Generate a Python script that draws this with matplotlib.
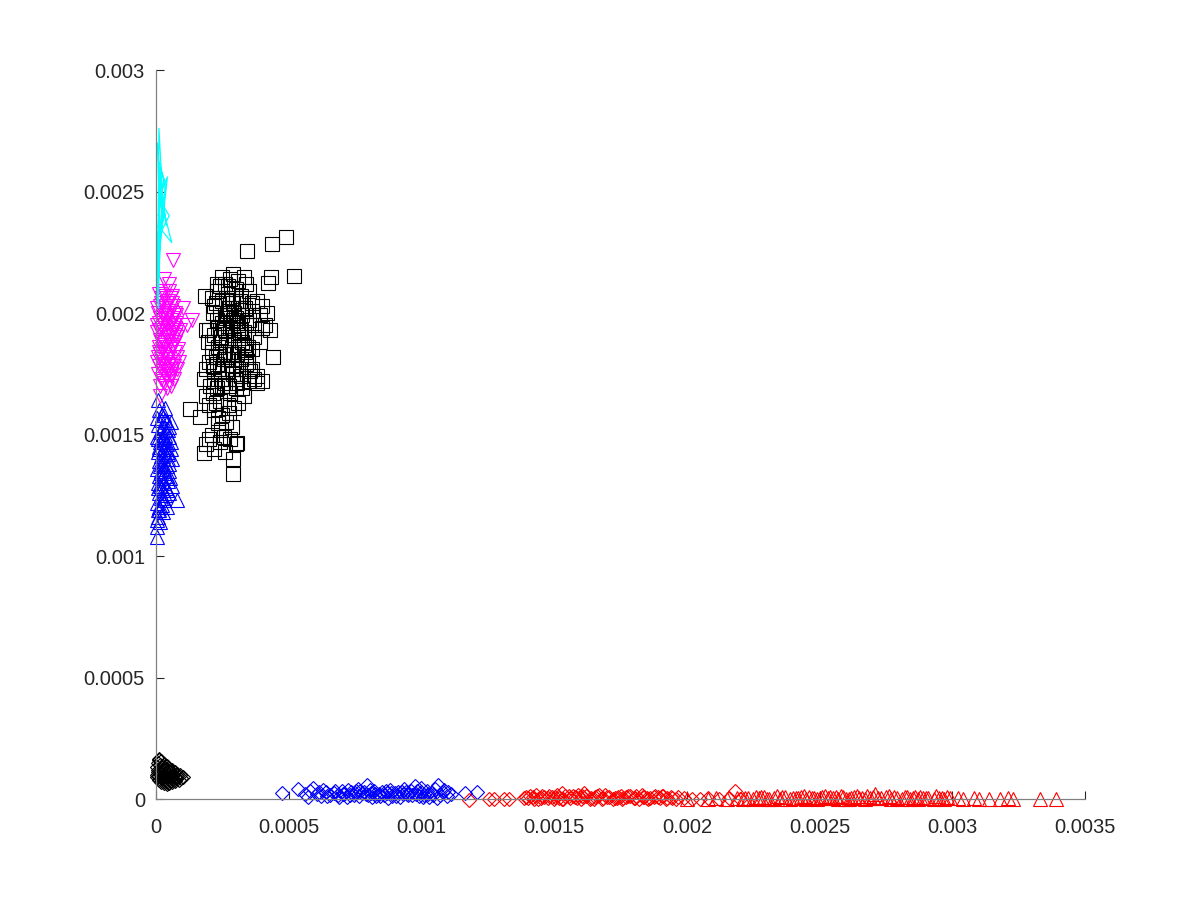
import numpy as np
import matplotlib
matplotlib.use('Agg')
import matplotlib.pyplot as plt

plt.rcParams['font.family'] = ['Liberation Sans', 'DejaVu Sans']

# all values below in units of 1e-3
U = 1e-3

cyan_x = [0.004, 0.010, 0.006, 0.012, 0.003, 0.018, 0.008, 0.011, 0.025, 0.007, 0.014, 0.030, 0.009, 0.020,
          0.043, 0.015, 0.035, 0.012, 0.028, 0.050, 0.022, 0.059, 0.018, 0.040, 0.010, 0.026, 0.005, 0.016,
          0.032, 0.008, 0.013, 0.006, 0.021, 0.009, 0.004, 0.015, 0.007, 0.011, 0.003, 0.009, 0.012, 0.006, 0.010]
cyan_y = [2.10, 2.30, 2.05, 2.45, 2.20, 2.52, 2.35, 2.76, 2.48, 2.15, 2.60, 2.55, 2.40, 2.50,
          2.56, 2.28, 2.53, 2.62, 2.44, 2.40, 2.34, 2.29, 2.47, 2.36, 2.58, 2.39, 2.70, 2.33,
          2.42, 2.26, 2.50, 2.18, 2.38, 2.12, 2.25, 2.32, 2.08, 2.22, 2.14, 2.02, 2.28, 2.06, 2.20]

mag_x = [0.010, 0.020, 0.030, 0.045, 0.060, 0.015, 0.035, 0.050, 0.070, 0.008, 0.025, 0.040, 0.055, 0.075,
         0.012, 0.030, 0.045, 0.065, 0.020, 0.005, 0.038, 0.052, 0.080, 0.015, 0.028, 0.060, 0.042, 0.010,
         0.022, 0.070, 0.035, 0.050, 0.006, 0.018, 0.064, 0.030, 0.045, 0.012, 0.078, 0.025, 0.055, 0.008,
         0.038, 0.020, 0.068, 0.048, 0.030, 0.014, 0.058, 0.040, 0.024, 0.058, 0.033, 0.016, 0.048, 0.066,
         0.028, 0.040, 0.054, 0.012, 0.072, 0.036, 0.062, 0.022, 0.044, 0.018, 0.040, 0.055, 0.026, 0.004,
         0.004, 0.065, 0.135, 0.115, 0.090, 0.085, 0.100, 0.050, 0.030, 0.015,
         0.065, 0.075, 0.070, 0.060, 0.078, 0.068, 0.058, 0.072, 0.062, 0.050, 0.040, 0.030, 0.020, 0.010,
         0.045, 0.035, 0.025, 0.015, 0.055, 0.005, 0.082, 0.076, 0.064, 0.052, 0.042]
mag_y = [2.08, 2.06, 2.07, 2.05, 2.04, 2.03, 2.02, 2.01, 2.00, 2.00, 1.99, 1.98, 1.97, 1.96,
         1.96, 1.95, 1.94, 1.93, 1.93, 1.92, 1.91, 1.90, 1.90, 1.89, 1.88, 1.87, 1.86, 1.86,
         1.85, 1.84, 1.83, 1.82, 1.82, 1.81, 1.80, 1.79, 1.78, 1.78, 1.77, 1.76, 1.75, 1.75,
         1.74, 1.73, 1.73, 1.72, 1.71, 1.70, 1.70, 1.69, 1.94, 1.92, 1.97, 1.98, 1.99, 1.95,
         1.85, 1.81, 1.84, 1.84, 1.88, 1.77, 1.77, 1.79, 1.90, 2.04, 2.04, 2.06, 2.09, 1.95,
         1.80, 2.218, 1.971, 1.95, 1.93, 1.80, 2.02, 2.12, 2.14, 1.66,
         2.03, 1.99, 1.91, 1.86, 1.82, 1.78, 1.74, 1.94, 2.07, 2.09, 1.96, 2.00, 1.88, 1.93,
         1.76, 1.87, 1.72, 1.83, 1.96, 2.02, 1.85, 1.92, 1.98, 1.79, 2.00]

btri_x = [0.010, 0.030, 0.020, 0.040, 0.008, 0.025, 0.045, 0.015, 0.035, 0.005, 0.050, 0.020, 0.030, 0.042,
          0.012, 0.025, 0.055, 0.006, 0.035, 0.018, 0.045, 0.010, 0.028, 0.040, 0.005, 0.020, 0.050, 0.032,
          0.012, 0.024, 0.044, 0.006, 0.016, 0.036, 0.026, 0.010, 0.048, 0.018, 0.032, 0.004, 0.022, 0.012,
          0.040, 0.028, 0.008, 0.016, 0.004, 0.012, 0.030, 0.038, 0.022, 0.014, 0.034, 0.008, 0.044, 0.026,
          0.018, 0.060, 0.078, 0.009, 0.034, 0.004, 0.004, 0.006, 0.055, 0.060,
          0.050, 0.055, 0.045, 0.040, 0.035, 0.030, 0.025, 0.020, 0.015, 0.010, 0.005, 0.048, 0.038, 0.028,
          0.018, 0.008, 0.052, 0.042, 0.032, 0.022]
btri_y = [1.60, 1.58, 1.56, 1.55, 1.54, 1.53, 1.52, 1.51, 1.50, 1.49, 1.49, 1.48, 1.47, 1.46,
          1.45, 1.44, 1.44, 1.43, 1.42, 1.41, 1.40, 1.39, 1.38, 1.37, 1.36, 1.35, 1.35, 1.34,
          1.33, 1.32, 1.31, 1.30, 1.29, 1.28, 1.27, 1.26, 1.26, 1.24, 1.23, 1.22, 1.21, 1.20,
          1.20, 1.18, 1.16, 1.14, 1.12, 1.19, 1.30, 1.46, 1.38, 1.47, 1.56, 1.28, 1.42, 1.50,
          1.34, 1.40, 1.23, 1.642, 1.609, 1.078, 1.148, 1.19, 1.55, 1.29,
          1.53, 1.47, 1.43, 1.33, 1.25, 1.36, 1.41, 1.52, 1.37, 1.44, 1.57, 1.38, 1.52, 1.24,
          1.29, 1.48, 1.32, 1.27, 1.45, 1.58]

sq_x = [0.489, 0.436, 0.344, 0.520, 0.433, 0.423, 0.291, 0.291, 0.181, 0.304, 0.128, 0.166, 0.235,
        0.20, 0.21, 0.19, 0.22, 0.24, 0.26, 0.28, 0.30,
        0.18, 0.19, 0.20, 0.21, 0.22, 0.23, 0.24, 0.25, 0.26, 0.27, 0.28, 0.29, 0.30, 0.31, 0.32, 0.33,
        0.34, 0.35, 0.36, 0.37, 0.38, 0.39, 0.40, 0.41, 0.42, 0.43, 0.44,
        0.20, 0.21, 0.22, 0.23, 0.24, 0.25, 0.26, 0.27, 0.28, 0.29, 0.30, 0.31, 0.32, 0.33, 0.34, 0.35,
        0.19, 0.20, 0.22, 0.24, 0.25, 0.27, 0.28, 0.30, 0.31, 0.33, 0.35, 0.36, 0.38,
        0.22, 0.23, 0.24, 0.25, 0.26, 0.27, 0.28, 0.29, 0.30, 0.31, 0.32, 0.33, 0.34, 0.26, 0.25, 0.24,
        0.23, 0.22, 0.21, 0.27, 0.28, 0.29, 0.30, 0.31, 0.32, 0.29, 0.27, 0.26, 0.30, 0.32, 0.34, 0.36,
        0.37, 0.39, 0.40, 0.38, 0.36, 0.185, 0.19, 0.195, 0.37, 0.40,
        0.215, 0.225, 0.235, 0.245, 0.255, 0.265, 0.275, 0.285, 0.295, 0.305, 0.315, 0.325, 0.335, 0.345,
        0.355, 0.215, 0.225, 0.235, 0.245, 0.255, 0.265, 0.275, 0.285, 0.295, 0.305, 0.315, 0.325, 0.335,
        0.345, 0.205, 0.215, 0.225, 0.235, 0.245, 0.255, 0.265, 0.275, 0.285, 0.295, 0.305, 0.315, 0.325,
        0.23, 0.25, 0.27, 0.29, 0.31]
sq_y = [2.311, 2.283, 2.255, 2.153, 2.149, 2.122, 1.336, 1.398, 1.423, 1.466, 1.604, 1.573, 1.546,
        1.48, 1.50, 1.46, 1.44, 1.47, 1.43, 1.48, 1.46,
        1.73, 1.77, 1.80, 1.84, 1.72, 1.79, 1.88, 1.70, 1.93, 1.81, 1.99, 1.75, 2.05, 1.86, 2.02, 1.92,
        1.82, 1.97, 2.01, 1.90, 1.74, 1.99, 2.03, 1.95, 2.00, 1.93, 1.82,
        1.93, 2.06, 2.03, 2.09, 2.11, 2.05, 2.12, 2.08, 2.14, 2.16, 2.10, 2.13, 2.07, 2.15, 2.12, 2.09,
        1.66, 1.62, 1.60, 1.64, 1.58, 1.62, 1.67, 1.69, 1.63, 1.66, 1.72, 1.77, 1.71,
        1.76, 1.69, 1.83, 1.77, 1.71, 1.89, 1.84, 1.91, 1.78, 1.95, 1.81, 1.87, 1.96, 1.99, 1.96, 2.00,
        1.97, 1.91, 1.88, 2.01, 1.94, 2.04, 1.98, 2.02, 1.93, 1.83, 1.76, 1.84, 1.73, 1.74, 1.79, 1.85,
        1.95, 1.88, 1.94, 2.05, 2.04, 2.07, 1.93, 1.88, 1.73, 1.72,
        1.78, 1.82, 1.86, 1.90, 1.94, 1.98, 2.02, 2.06, 2.00, 1.96, 1.92, 1.88, 1.84, 1.80,
        1.76, 2.00, 2.04, 1.94, 1.73, 1.81, 1.87, 1.70, 1.77, 1.89, 1.83, 2.05, 1.99, 2.02,
        1.86, 1.70, 1.67, 1.63, 1.57, 1.52, 1.49, 1.55, 1.59, 1.53, 1.61, 1.71, 1.77, 1.69,
        2.12, 2.15, 2.11, 1.97, 1.91]

kd_x = [0.010, 0.020, 0.015, 0.005, 0.030, 0.040, 0.050, 0.060, 0.070, 0.080, 0.090, 0.100, 0.095, 0.085,
        0.070, 0.060, 0.050, 0.040, 0.030, 0.020, 0.010, 0.005, 0.004, 0.006, 0.008, 0.020, 0.030, 0.040,
        0.050, 0.060, 0.070, 0.080, 0.020, 0.030, 0.040, 0.050, 0.015, 0.025, 0.035, 0.045, 0.055, 0.065,
        0.075, 0.012, 0.022, 0.032, 0.042, 0.018, 0.028, 0.038, 0.048, 0.058, 0.068, 0.008, 0.012]
kd_y = [0.160, 0.155, 0.140, 0.130, 0.145, 0.135, 0.125, 0.120, 0.110, 0.105, 0.100, 0.090, 0.085, 0.080,
        0.075, 0.070, 0.065, 0.060, 0.065, 0.070, 0.080, 0.090, 0.100, 0.110, 0.120, 0.130, 0.120, 0.110,
        0.100, 0.095, 0.090, 0.095, 0.100, 0.090, 0.085, 0.080, 0.110, 0.115, 0.100, 0.095, 0.110, 0.100,
        0.085, 0.095, 0.085, 0.075, 0.070, 0.125, 0.135, 0.125, 0.115, 0.085, 0.080, 0.150, 0.165]

bd_x = [0.476, 0.536, 0.593, 0.574, 0.605, 0.620, 0.640, 0.655, 0.670, 0.685, 0.700, 0.710, 0.720, 0.735,
        0.745, 0.755, 0.765, 0.775, 0.785, 0.794, 0.800, 0.810, 0.820, 0.830, 0.840, 0.850, 0.860, 0.870,
        0.880, 0.890, 0.900, 0.910, 0.920, 0.930, 0.940, 0.950, 0.960, 0.976, 0.980, 0.990, 1.000, 1.010,
        1.020, 1.030, 1.040, 1.050, 1.064, 1.070, 1.080, 1.095, 1.110, 1.164, 1.208, 0.630, 0.690, 0.760,
        0.815, 0.875, 0.935, 1.000, 1.060, 0.725, 0.560, 0.580,
        0.615, 0.645, 0.675, 0.705, 0.730, 0.750, 0.770, 0.790, 0.805, 0.825, 0.845, 0.865, 0.885, 0.905,
        0.925, 0.945, 0.965, 0.985, 1.005, 1.025, 1.045, 1.085, 1.100]
bd_y = [0.026, 0.040, 0.044, 0.010, 0.020, 0.012, 0.030, 0.018, 0.025, 0.015, 0.032, 0.022, 0.010, 0.028,
        0.018, 0.035, 0.012, 0.024, 0.030, 0.058, 0.016, 0.026, 0.034, 0.012, 0.022, 0.030, 0.018, 0.026,
        0.036, 0.014, 0.024, 0.030, 0.010, 0.020, 0.028, 0.016, 0.034, 0.053, 0.022, 0.012, 0.028, 0.018,
        0.034, 0.008, 0.024, 0.040, 0.058, 0.016, 0.028, 0.012, 0.020, 0.025, 0.030, 0.036, 0.008, 0.040,
        0.008, 0.006, 0.040, 0.044, 0.004, 0.038, 0.020, 0.032,
        0.028, 0.014, 0.034, 0.020, 0.016, 0.026, 0.032, 0.020, 0.036, 0.022, 0.014, 0.034, 0.024, 0.012,
        0.030, 0.022, 0.016, 0.032, 0.010, 0.022, 0.016, 0.036, 0.030]

rd_x = [1.181, 1.255, 1.275, 1.310, 1.330, 1.385, 1.529, 1.613, 2.180,
        1.40, 1.42, 1.44, 1.46, 1.48, 1.50, 1.52, 1.54, 1.56, 1.58, 1.60, 1.62, 1.64, 1.66, 1.68,
        1.70, 1.72, 1.74, 1.76, 1.78, 1.80, 1.82, 1.84, 1.86, 1.88, 1.90, 1.92, 1.94, 1.96,
        1.41, 1.45, 1.49, 1.53, 1.57, 1.61, 1.65, 1.69, 1.73, 1.77, 1.81, 1.85, 1.89,
        1.99, 2.02, 2.05, 2.08, 2.12, 2.16, 2.20,
        1.395, 1.425, 1.455, 1.475, 1.505, 1.535, 1.555, 1.585, 1.605, 1.635, 1.655, 1.685, 1.705, 1.735,
        1.755, 1.785, 1.805, 1.835, 1.855, 1.875, 1.905, 1.925, 1.945, 1.965, 1.43, 1.51, 1.59, 1.67,
        1.75, 1.83, 1.91]
rd_y = [-0.005, 0.000, 0.002, 0.000, 0.002, 0.004, 0.026, 0.026, 0.034,
        0.004, 0.010, 0.002, 0.008, 0.012, 0.000, 0.006, 0.014, 0.003, 0.009, 0.001, 0.011, 0.005, 0.013, 0.002,
        0.008, 0.000, 0.010, 0.004, 0.012, 0.006, 0.001, 0.009, 0.003, 0.011, 0.005, 0.000, 0.007, 0.002,
        0.014, 0.006, 0.010, 0.002, 0.012, 0.008, 0.000, 0.015, 0.005, 0.009, 0.013, 0.003, 0.007,
        0.004, 0.002, 0.000, 0.003, 0.001, 0.005, 0.002,
        0.007, 0.001, 0.012, 0.004, 0.009, 0.002, 0.011, 0.005, 0.013, 0.000, 0.008, 0.003, 0.010, 0.006,
        0.001, 0.012, 0.004, 0.009, 0.000, 0.007, 0.011, 0.003, 0.006, 0.010, 0.016, 0.015, 0.017, 0.016,
        0.014, 0.015, 0.013]

rt_x = [2.00, 2.08, 2.11, 2.15, 2.19, 2.21, 2.23, 2.25, 2.27, 2.29, 2.31, 2.33, 2.35, 2.37, 2.39, 2.41,
        2.43, 2.45, 2.47, 2.49, 2.51, 2.53, 2.55, 2.57, 2.59, 2.61, 2.63, 2.65, 2.67, 2.69, 2.71, 2.73,
        2.75, 2.77, 2.79, 2.81, 2.83, 2.85, 2.87, 2.89, 2.91, 2.93, 2.95, 2.97, 2.99, 3.04, 3.08, 3.10,
        3.14, 3.18, 3.21, 3.23, 3.33, 3.39, 2.34, 2.46, 2.52, 2.58, 2.64, 2.70, 2.76, 2.82, 2.88, 2.94,
        2.40, 2.62, 2.44, 2.56,
        2.22, 2.26, 2.30, 2.36, 2.42, 2.48, 2.54, 2.60, 2.66, 2.72, 2.78, 2.84, 2.90, 2.96, 2.28, 2.50,
        2.68, 2.86, 2.98, 3.02]
rt_y = [0.002, 0.000, 0.003, 0.001, 0.004, 0.002, 0.006, 0.000, 0.003, 0.008, 0.001, 0.005, 0.002, 0.007,
        0.000, 0.004, 0.009, 0.002, 0.006, 0.001, 0.010, 0.003, 0.005, 0.000, 0.007, 0.002, 0.008, 0.004,
        0.001, 0.006, 0.020, 0.003, 0.009, 0.000, 0.005, 0.002, 0.007, 0.004, 0.001, 0.006, 0.003, 0.000,
        0.005, 0.002, 0.004, 0.001, 0.003, 0.000, 0.002, 0.001, 0.003, 0.000, 0.001, 0.000, 0.012, 0.010,
        0.014, 0.011, 0.013, 0.009, 0.012, 0.010, 0.008, 0.011, 0.006, 0.004, 0.013, 0.007,
        0.004, 0.007, 0.002, 0.009, 0.003, 0.006, 0.008, 0.001, 0.005, 0.003, 0.007, 0.002, 0.006, 0.004,
        0.010, 0.005, 0.011, 0.008, 0.009, 0.003]

xticks = [0, 0.0005, 0.001, 0.0015, 0.002, 0.0025, 0.003, 0.0035]
xlabels = ['0', '0.0005', '0.001', '0.0015', '0.002', '0.0025', '0.003', '0.0035']
yticks = [0, 0.0005, 0.001, 0.0015, 0.002, 0.0025, 0.003]
ylabels = ['0', '0.0005', '0.001', '0.0015', '0.002', '0.0025', '0.003']

def a(v):
  return np.array(v) * U

fig = plt.figure(figsize=(12, 9), dpi=100)
ax = fig.add_axes([0.13, 0.1122, 0.7742, 0.81])

mk = dict(linestyle='none', mfc='none', mew=0.8, clip_on=False)
ax.plot(a(kd_x), a(kd_y), 'D', color='k', ms=7, **mk)
ax.plot(a(bd_x), a(bd_y), 'D', color='b', ms=7, **mk)
ax.plot(a(rd_x), a(rd_y), 'D', color='r', ms=7, **mk)
ax.plot(a(rt_x), a(rt_y), '^', color='r', ms=9.5, **mk)
ax.plot(a(btri_x), a(btri_y), '^', color='b', ms=9.5, **mk)
ax.plot(a(mag_x), a(mag_y), 'v', color='#ff00ff', ms=9.5, **mk)
ax.plot(a(sq_x), a(sq_y), 's', color='k', ms=9.5, **mk)
ax.plot(a(cyan_x), a(cyan_y), '-', color='#00ffff', lw=0.9, clip_on=False)

ax.set_xlim(0, 0.0035)
ax.set_ylim(0, 0.003)
ax.set_xticks(xticks, xlabels)
ax.set_yticks(yticks, ylabels)
for s in ['top', 'right']:
  ax.spines[s].set_visible(False)
for s in ['left', 'bottom']:
  ax.spines[s].set_color('#808080')
  ax.spines[s].set_linewidth(0.9)
ax.tick_params(direction='in', length=6, width=0.8, color='#262626', labelsize=14.5, labelcolor='#262626')
ax.tick_params(axis='x', pad=14)
ax.tick_params(axis='y', pad=8)

fig.savefig('out.png', dpi=100)
